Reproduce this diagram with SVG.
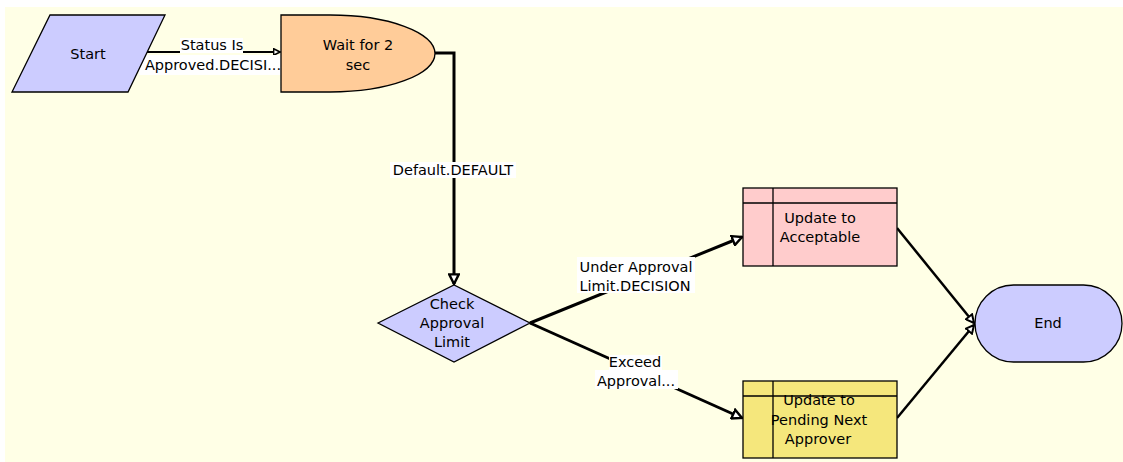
<svg xmlns="http://www.w3.org/2000/svg" width="1123" height="462" viewBox="0 0 1123 462">
<defs>
<style>
.t{font-family:"DejaVu Sans","Liberation Sans",sans-serif;font-size:14.5px;fill:#000;text-anchor:middle;dominant-baseline:central}
.n{stroke:#000;stroke-width:1.3}
.c{fill:none;stroke:#000;stroke-width:3}
.c2{fill:none;stroke:#000;stroke-width:2.5}
.c3{fill:none;stroke:#000;stroke-width:2}
.lb{fill:#fff}
</style>
<marker id="ar" viewBox="0 0 10 10" refX="9" refY="5" markerWidth="4" markerHeight="4" orient="auto" markerUnits="strokeWidth">
<path d="M1,1 L9,5 L1,9 Z" fill="#fff" stroke="#000" stroke-width="2"/>
</marker>
</defs>
<rect x="5" y="7" width="1118" height="455" fill="#FFFFE6"/>
<g id="connectors">
<path class="c3" d="M147,52 H280" marker-end="url(#ar)"/>
<path class="c" d="M435,53 H454 V284" marker-end="url(#ar)"/>
<path class="c" d="M530,323 L742,237" marker-end="url(#ar)"/>
<path class="c" d="M530,323 L742,418" marker-end="url(#ar)"/>
<path class="c2" d="M897,228 L974,323" marker-end="url(#ar)"/>
<path class="c2" d="M897,418 L974,325" marker-end="url(#ar)"/>
<rect class="lb" x="180" y="38" width="63" height="15"/>
<rect class="lb" x="139" y="55" width="149" height="20"/>
<text class="t" x="212" y="45">Status Is</text>
<text class="t" x="213" y="65">Approved.DECISI...</text>
<rect class="lb" x="390" y="162" width="126" height="16"/>
<text class="t" x="453" y="170">Default.DEFAULT</text>
<rect class="lb" x="577" y="257" width="118" height="36"/>
<text class="t" x="636" y="267">Under Approval</text>
<text class="t" x="635" y="286">Limit.DECISION</text>
<rect class="lb" x="609" y="355" width="53" height="16"/>
<rect class="lb" x="595" y="370" width="83" height="19"/>
<text class="t" x="635" y="362">Exceed</text>
<text class="t" x="636" y="381">Approval...</text>
</g>
<g id="start">
<polygon class="n" points="50,15 165,15 128,92 12,92" fill="#CCCCFF"/>
<text class="t" x="88" y="54">Start</text>
</g>
<g id="wait">
<path class="n" d="M281,15 H330 A105,38.5 0 0 1 330,92 H281 Z" fill="#FFCC99"/>
<text class="t" x="358" y="45">Wait for 2</text>
<text class="t" x="358" y="65">sec</text>
</g>
<g id="check">
<polygon class="n" points="378,323 454,285 530,323 454,362" fill="#CCCCFF"/>
<text class="t" x="452" y="304">Check</text>
<text class="t" x="452" y="323">Approval</text>
<text class="t" x="452" y="342">Limit</text>
</g>
<g id="acceptable">
<rect class="n" x="743" y="188" width="154" height="78" fill="#FFCCCC"/>
<path class="n" d="M743,203 H897 M773,188 V266" fill="none"/>
<text class="t" x="820" y="218">Update to</text>
<text class="t" x="820" y="237">Acceptable</text>
</g>
<g id="pending">
<rect class="n" x="743" y="381" width="154" height="77" fill="#F5E77C"/>
<path class="n" d="M743,396 H897 M773,381 V458" fill="none"/>
<text class="t" x="819" y="400">Update to</text>
<text class="t" x="819" y="420">Pending Next</text>
<text class="t" x="818" y="439">Approver</text>
</g>
<g id="end">
<rect class="n" x="975" y="285" width="147" height="77" rx="38.5" ry="38.5" fill="#CCCCFF"/>
<text class="t" x="1048" y="323">End</text>
</g>
</svg>
